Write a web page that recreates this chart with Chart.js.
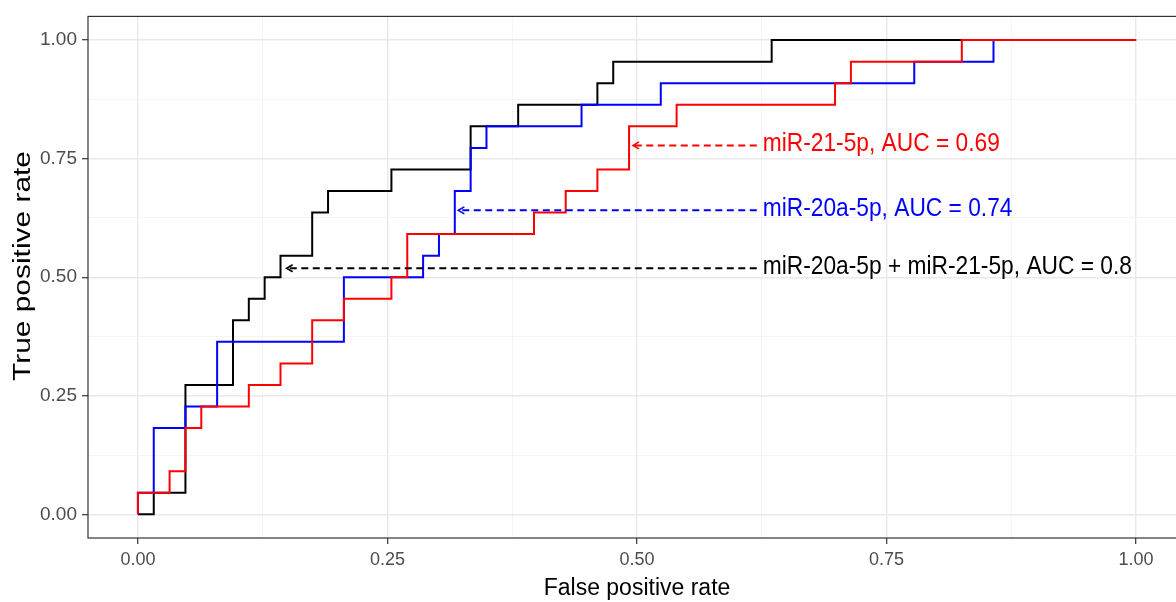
<!DOCTYPE html>
<html>
<head>
<meta charset="utf-8">
<script src="https://cdn.jsdelivr.net/npm/chart.js@4.4.0/dist/chart.umd.min.js"></script>
<style>
  html, body { margin: 0; padding: 0; background: #fff; overflow: hidden; }
  #wrap { width: 1196px; height: 602px; }
</style>
</head>
<body>
<div id="wrap"><canvas id="roc" width="1196" height="602"></canvas></div>
<script>
// counts: negatives = 63, positives = 22
const N_NEG = 63;
const N_POS = 22;

// ROC points (false positives, true positives) for each model
const redFp = [0, 0, 2, 3, 4, 7, 9, 11, 13, 16, 17, 25, 27, 29, 31, 34, 44, 45, 52, 63];
const redTp = [0, 1, 2, 4, 5, 6, 7, 9, 10, 11, 13, 14, 15, 16, 18, 19, 20, 21, 22, 22];

const blueFp = [0, 0, 1, 3, 5, 13, 18, 19, 20, 21, 22, 28, 33, 49, 54, 63];
const blueTp = [0, 1, 4, 5, 8, 11, 12, 13, 15, 17, 18, 19, 20, 21, 22, 22];

const blackFp = [0, 1, 3, 6, 7, 8, 9, 11, 12, 16, 21, 24, 29, 30, 40, 63];
const blackTp = [0, 1, 6, 9, 10, 11, 12, 14, 15, 16, 18, 19, 20, 21, 22, 22];

const seriesNames = ["miR-21-5p", "miR-20a-5p", "miR-20a-5p + miR-21-5p"];
const seriesColors = ["#ff0000", "#0000ff", "#000000"];

// annotation labels and where the dashed arrows sit (data units)
const labelTexts = ["miR-21-5p, AUC = 0.69", "miR-20a-5p, AUC = 0.74", "miR-20a-5p + miR-21-5p, AUC = 0.8"];
const labelY = [0.778, 0.641, 0.519];
const arrowTipX = [0.496, 0.321, 0.149];
const arrowTailX = 0.62;
const labelX = 0.626;

const majorTicks = [0, 0.25, 0.5, 0.75, 1];
const allTicks = [0, 0.125, 0.25, 0.375, 0.5, 0.625, 0.75, 0.875, 1];

const FONT = '"Liberation Sans", Arial, Helvetica, sans-serif';

const toPoints = (fp, tp) => fp.map((f, i) => ({ x: f / N_NEG, y: tp[i] / N_POS }));
const isMajor = v => majorTicks.some(m => Math.abs(m - v) < 1e-9);

function drawText(ctx, txt, x, y, size, color, sx, sy, align) {
  ctx.save();
  ctx.translate(x, y);
  ctx.scale(sx, sy);
  ctx.font = size + "px " + FONT;
  ctx.fillStyle = color;
  ctx.textAlign = align || "left";
  ctx.textBaseline = "middle";
  ctx.fillText(txt, 0, 0);
  ctx.restore();
}

const decorations = {
  id: "decorations",
  afterDatasetsDraw(chart) {
    const { ctx, chartArea, scales } = chart;
    const xs = scales.x, ys = scales.y;

    // dashed arrows + labels
    labelTexts.forEach((txt, i) => {
      const y = ys.getPixelForValue(labelY[i]);
      const x0 = xs.getPixelForValue(arrowTailX);
      const x1 = xs.getPixelForValue(arrowTipX[i]);
      ctx.save();
      ctx.strokeStyle = seriesColors[i];
      ctx.lineWidth = 2;
      ctx.setLineDash([7, 4.5]);
      ctx.beginPath();
      ctx.moveTo(x0, y);
      ctx.lineTo(x1 + 2, y);
      ctx.stroke();
      ctx.setLineDash([]);
      ctx.lineWidth = 1.6;
      ctx.beginPath();
      ctx.moveTo(x1 + 6, y - 3.5);
      ctx.lineTo(x1, y);
      ctx.lineTo(x1 + 6, y + 3.5);
      ctx.stroke();
      ctx.restore();
      drawText(ctx, txt, xs.getPixelForValue(labelX), y - 1, 25, seriesColors[i], 0.91, 1);
    });

    // panel border (theme_bw)
    ctx.save();
    ctx.strokeStyle = "#333333";
    ctx.lineWidth = 1.2;
    ctx.strokeRect(chartArea.left, chartArea.top, chartArea.right - chartArea.left, chartArea.bottom - chartArea.top);
    ctx.restore();
  },
  afterDraw(chart) {
    const { ctx, chartArea } = chart;
    drawText(ctx, "False positive rate", (chartArea.left + chartArea.right) / 2, 588, 23, "#000000", 1, 1.05, "center");
    ctx.save();
    ctx.translate(24, 266);
    ctx.rotate(-Math.PI / 2);
    drawText(ctx, "True positive rate", 0, 0, 23, "#000000", 1.3, 1, "center");
    ctx.restore();
  }
};

const gridOpts = {
  color: c => (isMajor(c.tick.value) ? "#e9e9e9" : "#f3f3f3"),
  lineWidth: c => (isMajor(c.tick.value) ? 1.4 : 0.8),
  tickColor: c => (isMajor(c.tick.value) ? "#333333" : "rgba(0,0,0,0)"),
  tickLength: 6,
  tickWidth: 1.2,
  drawTicks: true
};

const setTicks = scale => { scale.ticks = allTicks.map(v => ({ value: v })); };
const tickLabel = v => (isMajor(v) ? v.toFixed(2) : "");

new Chart(document.getElementById("roc"), {
  type: "line",
  data: {
    datasets: [
      { label: seriesNames[0], data: toPoints(redFp, redTp), borderColor: seriesColors[0] },
      { label: seriesNames[1], data: toPoints(blueFp, blueTp), borderColor: seriesColors[1] },
      { label: seriesNames[2], data: toPoints(blackFp, blackTp), borderColor: seriesColors[2] }
    ].map(d => Object.assign(d, { stepped: "before", borderWidth: 2, pointRadius: 0, fill: false }))
  },
  options: {
    responsive: false,
    animation: false,
    layout: { padding: { top: 13, right: 10, left: 0, bottom: 0 } },
    plugins: { legend: { display: false }, tooltip: { enabled: false } },
    scales: {
      x: {
        type: "linear",
        min: -0.05,
        max: 1.05,
        afterBuildTicks: setTicks,
        afterFit: s => { s.height = 64; },
        grid: gridOpts,
        border: { display: false },
        ticks: {
          autoSkip: false,
          maxRotation: 0,
          padding: 5,
          color: "#4d4d4d",
          font: { family: FONT, size: 18 },
          callback: tickLabel
        }
      },
      y: {
        type: "linear",
        min: -0.05,
        max: 1.05,
        afterBuildTicks: setTicks,
        afterFit: s => { s.width = 88; },
        grid: gridOpts,
        border: { display: false },
        ticks: {
          autoSkip: false,
          padding: 5,
          color: "#4d4d4d",
          font: { family: FONT, size: 19 },
          callback: tickLabel
        }
      }
    }
  },
  plugins: [decorations]
});
</script>
</body>
</html>
